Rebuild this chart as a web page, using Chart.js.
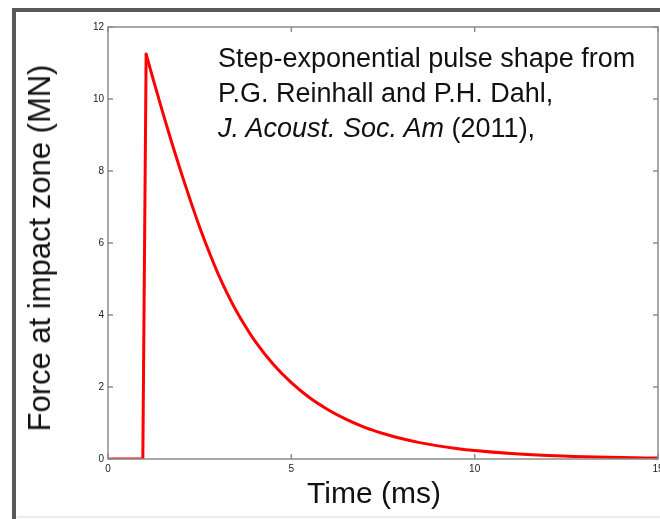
<!DOCTYPE html>
<html>
<head>
<meta charset="utf-8">
<script src="https://cdn.jsdelivr.net/npm/chart.js@4/dist/chart.umd.min.js"></script>
<style>
  html, body { margin: 0; padding: 0; background: #fff; }
  body { width: 660px; height: 519px; position: relative; overflow: hidden; font-family: "Liberation Sans", Arial, sans-serif; }
  #frame { position: absolute; left: 12px; top: 8px; width: 700px; height: 600px; border-left: 4px solid #5a5a5e; border-top: 4px solid #5a5a5e; box-sizing: border-box; }
  #bottomLine { position: absolute; left: 17px; top: 516px; width: 650px; height: 2px; background: #ececec; }
  #wrap { position: absolute; left: 0; top: 0; width: 660px; height: 519px; }
  .note { position: absolute; left: 218px; font-size: 27px; line-height: 31px; color: #111; white-space: nowrap; }
  .axisTitle { position: absolute; color: #111; white-space: nowrap; }
</style>
</head>
<body>
<div id="frame"></div>
<div id="bottomLine"></div>
<div id="wrap"><canvas id="grafico" width="660" height="519"></canvas></div>

<div class="note" style="top:43px;">Step-exponential pulse shape from</div>
<div class="note" style="top:78px;">P.G. Reinhall and P.H. Dahl,</div>
<div class="note" style="top:113px;"><i>J. Acoust. Soc. Am</i> (2011),</div>

<div class="axisTitle" style="font-size:31px; left:40px; top:248px; transform: translate(-50%,-50%) rotate(-90deg);">Force at impact zone (MN)</div>
<div class="axisTitle" style="font-size:30px; left:374px; top:493px; transform: translate(-50%,-50%);">Time (ms)</div>

<script>
// Pulso: tempo em ms, força em MN
const tempos = [0, 0.95, 1.04, 1.25, 1.5, 1.75, 2, 2.25, 2.5, 2.75, 3, 3.25, 3.5, 3.75, 4, 4.5, 5, 5.5, 6, 6.5, 7, 7.5, 8, 8.5, 9, 9.5, 10, 11, 12, 13, 14, 15];
const forcas = [0, 0, 11.25, 10.48, 9.6, 8.75, 7.94, 7.17, 6.44, 5.77, 5.15, 4.6, 4.11, 3.68, 3.29, 2.64, 2.12, 1.7, 1.37, 1.1, 0.88, 0.71, 0.57, 0.455, 0.365, 0.293, 0.235, 0.151, 0.097, 0.063, 0.04, 0.026];
const iPico = 2; // índice do pico (fim da subida)

const ticksX = [0, 5, 10, 15];
const ticksY = [0, 2, 4, 6, 8, 10, 12];

const pontos = tempos.map((t, i) => ({ x: t, y: forcas[i] }));

// caixa, ticks para dentro e rótulos pequenos (estilo matlab)
const eixosPlugin = {
    id: 'eixosMatlab',
    afterDraw(chart) {
        const ctx = chart.ctx;
        const a = chart.chartArea;
        const sx = chart.scales.x, sy = chart.scales.y;
        ctx.save();
        ctx.strokeStyle = '#8c8c8c';
        ctx.lineWidth = 1.5;
        ctx.strokeRect(a.left, a.top, a.right - a.left, a.bottom - a.top);

        const len = 5;
        ctx.beginPath();
        ticksX.forEach(v => {
            const px = sx.getPixelForValue(v);
            ctx.moveTo(px, a.bottom); ctx.lineTo(px, a.bottom - len);
            ctx.moveTo(px, a.top); ctx.lineTo(px, a.top + len);
        });
        ticksY.forEach(v => {
            const py = sy.getPixelForValue(v);
            ctx.moveTo(a.left, py); ctx.lineTo(a.left + len, py);
            ctx.moveTo(a.right, py); ctx.lineTo(a.right - len, py);
        });
        ctx.stroke();

        ctx.fillStyle = '#222';
        ctx.font = '10px "Liberation Sans", Arial, sans-serif';
        ctx.textAlign = 'center';
        ctx.textBaseline = 'top';
        ticksX.forEach(v => ctx.fillText(String(v), sx.getPixelForValue(v), a.bottom + 5));
        ctx.textAlign = 'right';
        ctx.textBaseline = 'middle';
        ticksY.forEach(v => ctx.fillText(String(v), a.left - 4, sy.getPixelForValue(v)));
        ctx.restore();
    }
};

const ctx = document.getElementById('grafico').getContext('2d');
new Chart(ctx, {
    type: 'line',
    data: {
        datasets: [
            {   // degrau
                data: pontos.slice(0, iPico + 1),
                borderColor: '#ff0000',
                borderWidth: 3,
                pointRadius: 0,
                tension: 0,
                borderJoinStyle: 'round',
                fill: false
            },
            {   // decaimento exponencial
                data: pontos.slice(iPico),
                borderColor: '#ff0000',
                borderWidth: 3,
                pointRadius: 0,
                cubicInterpolationMode: 'monotone',
                borderCapStyle: 'round',
                fill: false
            }
        ]
    },
    options: {
        responsive: false,
        animation: false,
        layout: { padding: { left: 108, top: 27, right: 2, bottom: 60 } },
        scales: {
            x: { type: 'linear', min: 0, max: 15, display: false },
            y: { min: 0, max: 12, display: false }
        },
        plugins: {
            legend: { display: false },
            tooltip: { enabled: false }
        }
    },
    plugins: [eixosPlugin]
});
</script>
</body>
</html>
